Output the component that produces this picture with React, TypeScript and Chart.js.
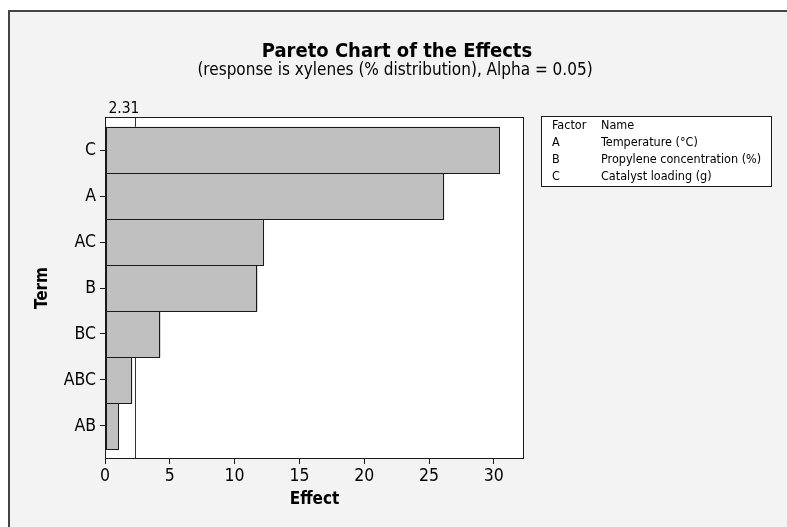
import React, { useEffect, useRef } from "react";
import { Chart, registerables } from "chart.js";

Chart.register(...registerables);

const terms = ["C", "A", "AC", "B", "BC", "ABC", "AB"];
const effects = [30.45, 26.15, 12.25, 11.76, 4.27, 2.08, 1.05];
const xTicks = [0, 5, 10, 15, 20, 25, 30];
const xMax = 32.33;
const refValue = 2.31;
const refLabel = "2.31";
const factorCodes = ["A", "B", "C"];
const factorNames = ["Temperature (°C)", "Propylene concentration (%)", "Catalyst loading (g)"];
const titleText = "Pareto Chart of the Effects";
const subtitleText = "(response is xylenes (% distribution), Alpha = 0.05)";
const xTitle = "Effect";
const yTitle = "Term";

const FONT = "Tahoma, 'DejaVu Sans Condensed', 'DejaVu Sans', sans-serif";
const DARK = "#1a1a1a";

const decorPlugin = {
  id: "decor",
  beforeDraw(chart: any) {
    const { ctx, chartArea: a } = chart;
    ctx.save();
    ctx.fillStyle = "#ffffff";
    ctx.fillRect(a.left, a.top, a.right - a.left, a.bottom - a.top);
    ctx.restore();
  },
  beforeDatasetsDraw(chart: any) {
    const { ctx, chartArea: a } = chart;
    const xs = chart.scales.x;
    const px = Math.round(xs.getPixelForValue(refValue)) + 0.5;
    ctx.save();
    ctx.strokeStyle = "#333";
    ctx.lineWidth = 1;
    ctx.beginPath();
    ctx.moveTo(px, a.top);
    ctx.lineTo(px, a.bottom);
    ctx.stroke();
    ctx.restore();
  },
  afterDatasetsDraw(chart: any) {
    const { ctx } = chart;
    const meta = chart.getDatasetMeta(0);
    ctx.save();
    ctx.strokeStyle = DARK;
    ctx.lineWidth = 1;
    meta.data.forEach((el: any) => {
      const p = el.getProps(["x", "y", "base", "height"], true);
      const l = Math.round(Math.min(p.x, p.base));
      const r = Math.round(Math.max(p.x, p.base));
      const t = Math.round(p.y - p.height / 2);
      const b = Math.round(p.y + p.height / 2);
      ctx.strokeRect(l + 0.5, t + 0.5, r - l - 1, b - t);
    });
    ctx.restore();
  },
  afterDraw(chart: any) {
    const { ctx, chartArea: a } = chart;
    const xs = chart.scales.x;
    ctx.save();
    // plot frame
    ctx.strokeStyle = DARK;
    ctx.lineWidth = 1;
    ctx.strokeRect(a.left + 0.5, a.top + 0.5, a.right - a.left - 1, a.bottom - a.top - 1);

    ctx.fillStyle = "#000";
    ctx.textAlign = "center";
    ctx.textBaseline = "alphabetic";
    ctx.font = `bold 20px ${FONT}`;
    ctx.fillText(titleText, 397, 57);
    ctx.font = `17px ${FONT}`;
    ctx.fillText(subtitleText, 395, 75);

    // reference label
    const px = xs.getPixelForValue(refValue);
    ctx.font = `15.5px ${FONT}`;
    ctx.fillText(refLabel, px - 11, 113);

    // axis titles
    ctx.font = `bold 17px ${FONT}`;
    ctx.textBaseline = "middle";
    ctx.fillText(xTitle, (a.left + a.right) / 2, 500);
    ctx.save();
    ctx.translate(43, (a.top + a.bottom) / 2);
    ctx.rotate(-Math.PI / 2);
    ctx.fillText(yTitle, 0, 0);
    ctx.restore();

    // legend box
    const bx = 541.5, by = 116.5, bw = 230, bh = 70;
    ctx.fillStyle = "#ffffff";
    ctx.fillRect(bx, by, bw, bh);
    ctx.strokeStyle = DARK;
    ctx.strokeRect(bx, by, bw, bh);
    ctx.fillStyle = "#000";
    ctx.textAlign = "left";
    ctx.textBaseline = "middle";
    ctx.font = `12.5px ${FONT}`;
    const rowY = [126, 143, 160, 177];
    ctx.fillText("Factor", 552, rowY[0]);
    ctx.fillText("Name", 601, rowY[0]);
    factorCodes.forEach((c, i) => {
      ctx.fillText(c, 552, rowY[i + 1]);
      ctx.fillText(factorNames[i], 601, rowY[i + 1]);
    });
    ctx.restore();
  },
};

export default function App() {
  const ref = useRef<HTMLCanvasElement | null>(null);

  useEffect(() => {
    if (!ref.current) return;
    const chart = new Chart(ref.current, {
      type: "bar",
      data: {
        datasets: [
          {
            data: terms.map((_, i) => ({ x: effects[i], y: i })) as any,
            backgroundColor: "#c0c0c0",
            borderWidth: 0,
            barPercentage: 1,
            categoryPercentage: 1,
          },
        ],
      },
      options: {
        indexAxis: "y",
        responsive: false,
        animation: false,
        devicePixelRatio: 1,
        layout: { padding: { left: 20, top: 117, right: 263, bottom: 0 } },
        plugins: { legend: { display: false }, tooltip: { enabled: false } },
        scales: {
          x: {
            type: "linear",
            position: "bottom",
            min: 0,
            max: xMax,
            offset: false,
            afterBuildTicks: (s: any) => {
              s.ticks = xTicks.map((v) => ({ value: v }));
            },
            afterFit: (s: any) => {
              s.height = 68;
            },
            ticks: {
              font: { family: FONT, size: 17.5 },
              color: "#000",
              padding: 2,
              maxRotation: 0,
              autoSkip: false,
            },
            grid: { drawOnChartArea: false, tickLength: 5, color: DARK, offset: false },
            border: { display: false },
          },
          y: {
            type: "linear",
            position: "left",
            min: -0.7175,
            max: 6.7175,
            reverse: true,
            offset: false,
            afterBuildTicks: (s: any) => {
              s.ticks = terms.map((_, i) => ({ value: i }));
            },
            afterFit: (s: any) => {
              s.width = 85;
            },
            ticks: {
              callback: (v: any) => terms[Math.round(Number(v))] ?? "",
              font: { family: FONT, size: 17.5 },
              color: "#000",
              padding: 4,
              autoSkip: false,
            },
            grid: { drawOnChartArea: false, tickLength: 5, color: DARK, offset: false },
            border: { display: false },
          },
        },
      } as any,
      plugins: [decorPlugin],
    });
    return () => chart.destroy();
  }, []);

  return (
    <>
      <div
        style={{
          position: "fixed",
          left: 8,
          top: 10,
          width: 779,
          height: 517,
          boxSizing: "border-box",
          borderLeft: "2px solid #444",
          borderTop: "2px solid #444",
          background: "#f3f3f3",
        }}
      />
      <canvas
        ref={ref}
        width={787}
        height={527}
        style={{ position: "fixed", left: 0, top: 0, width: 787, height: 527 }}
      />
    </>
  );
}
